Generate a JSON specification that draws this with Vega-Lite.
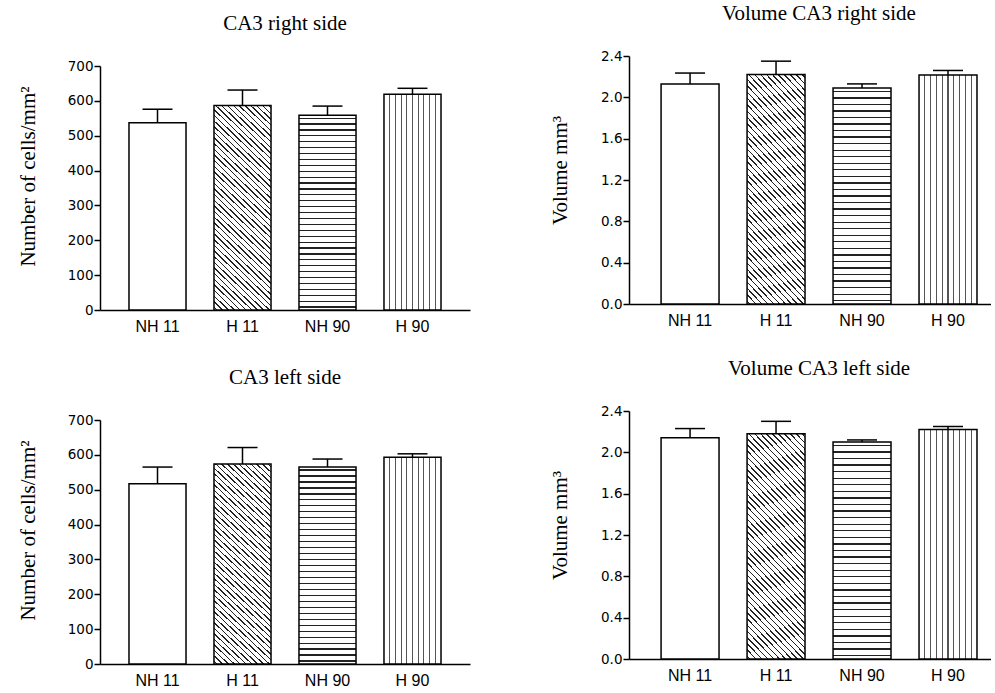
{
"$schema": "https://vega.github.io/schema/vega-lite/v6.json",
"padding": {"left": 17, "top": 3, "right": 0, "bottom": 0},
"params": [
{"name": "gradH", "value": {"gradient": "linear", "x1": 0, "y1": 0, "x2": 0, "y2": 1, "stops": [
{"offset":0.0121,"color":"#fff"},{"offset":0.0121,"color":"#222"},{"offset":0.0182,"color":"#222"},{"offset":0.0182,"color":"#fff"},
{"offset":0.0424,"color":"#fff"},{"offset":0.0424,"color":"#222"},{"offset":0.0485,"color":"#222"},{"offset":0.0485,"color":"#fff"},
{"offset":0.0727,"color":"#fff"},{"offset":0.0727,"color":"#222"},{"offset":0.0788,"color":"#222"},{"offset":0.0788,"color":"#fff"},
{"offset":0.1030,"color":"#fff"},{"offset":0.1030,"color":"#222"},{"offset":0.1091,"color":"#222"},{"offset":0.1091,"color":"#fff"},
{"offset":0.1333,"color":"#fff"},{"offset":0.1333,"color":"#222"},{"offset":0.1394,"color":"#222"},{"offset":0.1394,"color":"#fff"},
{"offset":0.1636,"color":"#fff"},{"offset":0.1636,"color":"#222"},{"offset":0.1697,"color":"#222"},{"offset":0.1697,"color":"#fff"},
{"offset":0.1939,"color":"#fff"},{"offset":0.1939,"color":"#222"},{"offset":0.2000,"color":"#222"},{"offset":0.2000,"color":"#fff"},
{"offset":0.2242,"color":"#fff"},{"offset":0.2242,"color":"#222"},{"offset":0.2303,"color":"#222"},{"offset":0.2303,"color":"#fff"},
{"offset":0.2545,"color":"#fff"},{"offset":0.2545,"color":"#222"},{"offset":0.2606,"color":"#222"},{"offset":0.2606,"color":"#fff"},
{"offset":0.2848,"color":"#fff"},{"offset":0.2848,"color":"#222"},{"offset":0.2909,"color":"#222"},{"offset":0.2909,"color":"#fff"},
{"offset":0.3152,"color":"#fff"},{"offset":0.3152,"color":"#222"},{"offset":0.3212,"color":"#222"},{"offset":0.3212,"color":"#fff"},
{"offset":0.3455,"color":"#fff"},{"offset":0.3455,"color":"#222"},{"offset":0.3515,"color":"#222"},{"offset":0.3515,"color":"#fff"},
{"offset":0.3758,"color":"#fff"},{"offset":0.3758,"color":"#222"},{"offset":0.3818,"color":"#222"},{"offset":0.3818,"color":"#fff"},
{"offset":0.4061,"color":"#fff"},{"offset":0.4061,"color":"#222"},{"offset":0.4121,"color":"#222"},{"offset":0.4121,"color":"#fff"},
{"offset":0.4364,"color":"#fff"},{"offset":0.4364,"color":"#222"},{"offset":0.4424,"color":"#222"},{"offset":0.4424,"color":"#fff"},
{"offset":0.4667,"color":"#fff"},{"offset":0.4667,"color":"#222"},{"offset":0.4727,"color":"#222"},{"offset":0.4727,"color":"#fff"},
{"offset":0.4970,"color":"#fff"},{"offset":0.4970,"color":"#222"},{"offset":0.5030,"color":"#222"},{"offset":0.5030,"color":"#fff"},
{"offset":0.5273,"color":"#fff"},{"offset":0.5273,"color":"#222"},{"offset":0.5333,"color":"#222"},{"offset":0.5333,"color":"#fff"},
{"offset":0.5576,"color":"#fff"},{"offset":0.5576,"color":"#222"},{"offset":0.5636,"color":"#222"},{"offset":0.5636,"color":"#fff"},
{"offset":0.5879,"color":"#fff"},{"offset":0.5879,"color":"#222"},{"offset":0.5939,"color":"#222"},{"offset":0.5939,"color":"#fff"},
{"offset":0.6182,"color":"#fff"},{"offset":0.6182,"color":"#222"},{"offset":0.6242,"color":"#222"},{"offset":0.6242,"color":"#fff"},
{"offset":0.6485,"color":"#fff"},{"offset":0.6485,"color":"#222"},{"offset":0.6545,"color":"#222"},{"offset":0.6545,"color":"#fff"},
{"offset":0.6788,"color":"#fff"},{"offset":0.6788,"color":"#222"},{"offset":0.6848,"color":"#222"},{"offset":0.6848,"color":"#fff"},
{"offset":0.7091,"color":"#fff"},{"offset":0.7091,"color":"#222"},{"offset":0.7152,"color":"#222"},{"offset":0.7152,"color":"#fff"},
{"offset":0.7394,"color":"#fff"},{"offset":0.7394,"color":"#222"},{"offset":0.7455,"color":"#222"},{"offset":0.7455,"color":"#fff"},
{"offset":0.7697,"color":"#fff"},{"offset":0.7697,"color":"#222"},{"offset":0.7758,"color":"#222"},{"offset":0.7758,"color":"#fff"},
{"offset":0.8000,"color":"#fff"},{"offset":0.8000,"color":"#222"},{"offset":0.8061,"color":"#222"},{"offset":0.8061,"color":"#fff"},
{"offset":0.8303,"color":"#fff"},{"offset":0.8303,"color":"#222"},{"offset":0.8364,"color":"#222"},{"offset":0.8364,"color":"#fff"},
{"offset":0.8606,"color":"#fff"},{"offset":0.8606,"color":"#222"},{"offset":0.8667,"color":"#222"},{"offset":0.8667,"color":"#fff"},
{"offset":0.8909,"color":"#fff"},{"offset":0.8909,"color":"#222"},{"offset":0.8970,"color":"#222"},{"offset":0.8970,"color":"#fff"},
{"offset":0.9212,"color":"#fff"},{"offset":0.9212,"color":"#222"},{"offset":0.9273,"color":"#222"},{"offset":0.9273,"color":"#fff"},
{"offset":0.9515,"color":"#fff"},{"offset":0.9515,"color":"#222"},{"offset":0.9576,"color":"#222"},{"offset":0.9576,"color":"#fff"},
{"offset":0.9818,"color":"#fff"},{"offset":0.9818,"color":"#222"},{"offset":0.9879,"color":"#222"},{"offset":0.9879,"color":"#fff"}
]}},
{"name": "gradV", "value": {"gradient": "linear", "x1": 0, "y1": 0, "x2": 1, "y2": 0, "stops": [
{"offset":0.09,"color":"#fff"},{"offset":0.09,"color":"#555"},{"offset":0.11,"color":"#555"},{"offset":0.11,"color":"#fff"},
{"offset":0.19,"color":"#fff"},{"offset":0.19,"color":"#555"},{"offset":0.21,"color":"#555"},{"offset":0.21,"color":"#fff"},
{"offset":0.29,"color":"#fff"},{"offset":0.29,"color":"#555"},{"offset":0.31,"color":"#555"},{"offset":0.31,"color":"#fff"},
{"offset":0.39,"color":"#fff"},{"offset":0.39,"color":"#555"},{"offset":0.41,"color":"#555"},{"offset":0.41,"color":"#fff"},
{"offset":0.49,"color":"#fff"},{"offset":0.49,"color":"#555"},{"offset":0.51,"color":"#555"},{"offset":0.51,"color":"#fff"},
{"offset":0.59,"color":"#fff"},{"offset":0.59,"color":"#555"},{"offset":0.61,"color":"#555"},{"offset":0.61,"color":"#fff"},
{"offset":0.69,"color":"#fff"},{"offset":0.69,"color":"#555"},{"offset":0.71,"color":"#555"},{"offset":0.71,"color":"#fff"},
{"offset":0.79,"color":"#fff"},{"offset":0.79,"color":"#555"},{"offset":0.81,"color":"#555"},{"offset":0.81,"color":"#fff"},
{"offset":0.89,"color":"#fff"},{"offset":0.89,"color":"#555"},{"offset":0.91,"color":"#555"},{"offset":0.91,"color":"#fff"}
]}},
{"name": "gradD", "value": {"gradient": "linear", "x1": 0, "y1": 1, "x2": 0.3196, "y2": -0.1837, "stops": [
{"offset":0.00815,"color":"#fff"},{"offset":0.00815,"color":"#222"},{"offset":0.01359,"color":"#222"},{"offset":0.01359,"color":"#fff"},
{"offset":0.02989,"color":"#fff"},{"offset":0.02989,"color":"#222"},{"offset":0.03533,"color":"#222"},{"offset":0.03533,"color":"#fff"},
{"offset":0.05163,"color":"#fff"},{"offset":0.05163,"color":"#222"},{"offset":0.05707,"color":"#222"},{"offset":0.05707,"color":"#fff"},
{"offset":0.07337,"color":"#fff"},{"offset":0.07337,"color":"#222"},{"offset":0.07880,"color":"#222"},{"offset":0.07880,"color":"#fff"},
{"offset":0.09511,"color":"#fff"},{"offset":0.09511,"color":"#222"},{"offset":0.10054,"color":"#222"},{"offset":0.10054,"color":"#fff"},
{"offset":0.11685,"color":"#fff"},{"offset":0.11685,"color":"#222"},{"offset":0.12228,"color":"#222"},{"offset":0.12228,"color":"#fff"},
{"offset":0.13859,"color":"#fff"},{"offset":0.13859,"color":"#222"},{"offset":0.14402,"color":"#222"},{"offset":0.14402,"color":"#fff"},
{"offset":0.16033,"color":"#fff"},{"offset":0.16033,"color":"#222"},{"offset":0.16576,"color":"#222"},{"offset":0.16576,"color":"#fff"},
{"offset":0.18207,"color":"#fff"},{"offset":0.18207,"color":"#222"},{"offset":0.18750,"color":"#222"},{"offset":0.18750,"color":"#fff"},
{"offset":0.20380,"color":"#fff"},{"offset":0.20380,"color":"#222"},{"offset":0.20924,"color":"#222"},{"offset":0.20924,"color":"#fff"},
{"offset":0.22554,"color":"#fff"},{"offset":0.22554,"color":"#222"},{"offset":0.23098,"color":"#222"},{"offset":0.23098,"color":"#fff"},
{"offset":0.24728,"color":"#fff"},{"offset":0.24728,"color":"#222"},{"offset":0.25272,"color":"#222"},{"offset":0.25272,"color":"#fff"},
{"offset":0.26902,"color":"#fff"},{"offset":0.26902,"color":"#222"},{"offset":0.27446,"color":"#222"},{"offset":0.27446,"color":"#fff"},
{"offset":0.29076,"color":"#fff"},{"offset":0.29076,"color":"#222"},{"offset":0.29620,"color":"#222"},{"offset":0.29620,"color":"#fff"},
{"offset":0.31250,"color":"#fff"},{"offset":0.31250,"color":"#222"},{"offset":0.31793,"color":"#222"},{"offset":0.31793,"color":"#fff"},
{"offset":0.33424,"color":"#fff"},{"offset":0.33424,"color":"#222"},{"offset":0.33967,"color":"#222"},{"offset":0.33967,"color":"#fff"},
{"offset":0.35598,"color":"#fff"},{"offset":0.35598,"color":"#222"},{"offset":0.36141,"color":"#222"},{"offset":0.36141,"color":"#fff"},
{"offset":0.37772,"color":"#fff"},{"offset":0.37772,"color":"#222"},{"offset":0.38315,"color":"#222"},{"offset":0.38315,"color":"#fff"},
{"offset":0.39946,"color":"#fff"},{"offset":0.39946,"color":"#222"},{"offset":0.40489,"color":"#222"},{"offset":0.40489,"color":"#fff"},
{"offset":0.42120,"color":"#fff"},{"offset":0.42120,"color":"#222"},{"offset":0.42663,"color":"#222"},{"offset":0.42663,"color":"#fff"},
{"offset":0.44293,"color":"#fff"},{"offset":0.44293,"color":"#222"},{"offset":0.44837,"color":"#222"},{"offset":0.44837,"color":"#fff"},
{"offset":0.46467,"color":"#fff"},{"offset":0.46467,"color":"#222"},{"offset":0.47011,"color":"#222"},{"offset":0.47011,"color":"#fff"},
{"offset":0.48641,"color":"#fff"},{"offset":0.48641,"color":"#222"},{"offset":0.49185,"color":"#222"},{"offset":0.49185,"color":"#fff"},
{"offset":0.50815,"color":"#fff"},{"offset":0.50815,"color":"#222"},{"offset":0.51359,"color":"#222"},{"offset":0.51359,"color":"#fff"},
{"offset":0.52989,"color":"#fff"},{"offset":0.52989,"color":"#222"},{"offset":0.53533,"color":"#222"},{"offset":0.53533,"color":"#fff"},
{"offset":0.55163,"color":"#fff"},{"offset":0.55163,"color":"#222"},{"offset":0.55707,"color":"#222"},{"offset":0.55707,"color":"#fff"},
{"offset":0.57337,"color":"#fff"},{"offset":0.57337,"color":"#222"},{"offset":0.57880,"color":"#222"},{"offset":0.57880,"color":"#fff"},
{"offset":0.59511,"color":"#fff"},{"offset":0.59511,"color":"#222"},{"offset":0.60054,"color":"#222"},{"offset":0.60054,"color":"#fff"},
{"offset":0.61685,"color":"#fff"},{"offset":0.61685,"color":"#222"},{"offset":0.62228,"color":"#222"},{"offset":0.62228,"color":"#fff"},
{"offset":0.63859,"color":"#fff"},{"offset":0.63859,"color":"#222"},{"offset":0.64402,"color":"#222"},{"offset":0.64402,"color":"#fff"},
{"offset":0.66033,"color":"#fff"},{"offset":0.66033,"color":"#222"},{"offset":0.66576,"color":"#222"},{"offset":0.66576,"color":"#fff"},
{"offset":0.68207,"color":"#fff"},{"offset":0.68207,"color":"#222"},{"offset":0.68750,"color":"#222"},{"offset":0.68750,"color":"#fff"},
{"offset":0.70380,"color":"#fff"},{"offset":0.70380,"color":"#222"},{"offset":0.70924,"color":"#222"},{"offset":0.70924,"color":"#fff"},
{"offset":0.72554,"color":"#fff"},{"offset":0.72554,"color":"#222"},{"offset":0.73098,"color":"#222"},{"offset":0.73098,"color":"#fff"},
{"offset":0.74728,"color":"#fff"},{"offset":0.74728,"color":"#222"},{"offset":0.75272,"color":"#222"},{"offset":0.75272,"color":"#fff"},
{"offset":0.76902,"color":"#fff"},{"offset":0.76902,"color":"#222"},{"offset":0.77446,"color":"#222"},{"offset":0.77446,"color":"#fff"},
{"offset":0.79076,"color":"#fff"},{"offset":0.79076,"color":"#222"},{"offset":0.79620,"color":"#222"},{"offset":0.79620,"color":"#fff"},
{"offset":0.81250,"color":"#fff"},{"offset":0.81250,"color":"#222"},{"offset":0.81793,"color":"#222"},{"offset":0.81793,"color":"#fff"},
{"offset":0.83424,"color":"#fff"},{"offset":0.83424,"color":"#222"},{"offset":0.83967,"color":"#222"},{"offset":0.83967,"color":"#fff"},
{"offset":0.85598,"color":"#fff"},{"offset":0.85598,"color":"#222"},{"offset":0.86141,"color":"#222"},{"offset":0.86141,"color":"#fff"},
{"offset":0.87772,"color":"#fff"},{"offset":0.87772,"color":"#222"},{"offset":0.88315,"color":"#222"},{"offset":0.88315,"color":"#fff"},
{"offset":0.89946,"color":"#fff"},{"offset":0.89946,"color":"#222"},{"offset":0.90489,"color":"#222"},{"offset":0.90489,"color":"#fff"},
{"offset":0.92120,"color":"#fff"},{"offset":0.92120,"color":"#222"},{"offset":0.92663,"color":"#222"},{"offset":0.92663,"color":"#fff"},
{"offset":0.94293,"color":"#fff"},{"offset":0.94293,"color":"#222"},{"offset":0.94837,"color":"#222"},{"offset":0.94837,"color":"#fff"},
{"offset":0.96467,"color":"#fff"},{"offset":0.96467,"color":"#222"},{"offset":0.97011,"color":"#222"},{"offset":0.97011,"color":"#fff"},
{"offset":0.98641,"color":"#fff"},{"offset":0.98641,"color":"#222"},{"offset":0.99185,"color":"#222"},{"offset":0.99185,"color":"#fff"}
]}}
],
"data": {"values": [
{"panel": "cells_right", "group": "NH 11", "mean": 537, "upper": 576},
{"panel": "cells_right", "group": "H 11", "mean": 587, "upper": 631},
{"panel": "cells_right", "group": "NH 90", "mean": 559, "upper": 585},
{"panel": "cells_right", "group": "H 90", "mean": 619, "upper": 636},
{"panel": "cells_left", "group": "NH 11", "mean": 517, "upper": 565},
{"panel": "cells_left", "group": "H 11", "mean": 574, "upper": 621},
{"panel": "cells_left", "group": "NH 90", "mean": 565, "upper": 588},
{"panel": "cells_left", "group": "H 90", "mean": 593, "upper": 603},
{"panel": "vol_right", "group": "NH 11", "mean": 2.13, "upper": 2.235},
{"panel": "vol_right", "group": "H 11", "mean": 2.22, "upper": 2.35},
{"panel": "vol_right", "group": "NH 90", "mean": 2.09, "upper": 2.13},
{"panel": "vol_right", "group": "H 90", "mean": 2.215, "upper": 2.26},
{"panel": "vol_left", "group": "NH 11", "mean": 2.14, "upper": 2.23},
{"panel": "vol_left", "group": "H 11", "mean": 2.18, "upper": 2.30},
{"panel": "vol_left", "group": "NH 90", "mean": 2.10, "upper": 2.12},
{"panel": "vol_left", "group": "H 90", "mean": 2.22, "upper": 2.25}
]},
"hconcat": [
{"vconcat": [
{"width": 370, "height": 254, "title": {"text": "CA3 right side", "offset": 22},
 "transform": [{"filter": "datum.panel === 'cells_right'"}],
 "encoding": {
  "x": {"field": "group", "type": "nominal", "sort": ["NH 11", "H 11", "NH 90", "H 90"], "scale": {"paddingInner": 0.329, "paddingOuter": 0.341}, "title": null},
  "y": {"field": "mean", "type": "quantitative", "scale": {"domain": [0, 700], "range": [254, 10], "nice": false}, "axis": {"values": [0, 100, 200, 300, 400, 500, 600, 700], "titleY": 120, "titlePadding": 29}, "title": "Number of cells/mm²"}},
 "layer": [
  {"transform": [{"filter": "datum.group === 'NH 11'"}], "mark": {"type": "bar", "fill": "white"}},
  {"transform": [{"filter": "datum.group === 'H 11'"}], "mark": {"type": "bar", "fill": {"expr": "gradD"}}},
  {"transform": [{"filter": "datum.group === 'NH 90'"}], "mark": {"type": "bar", "fill": {"expr": "gradH"}}},
  {"transform": [{"filter": "datum.group === 'H 90'"}], "mark": {"type": "bar", "fill": {"expr": "gradV"}}},
  {"mark": {"type": "rule", "color": "black", "strokeWidth": 1.5}, "encoding": {"y2": {"field": "upper"}}},
  {"mark": {"type": "tick", "color": "black", "size": 30, "thickness": 1.5, "opacity": 1}, "encoding": {"y": {"field": "upper", "type": "quantitative", "title": "Number of cells/mm²"}}}
 ]},
{"width": 370, "height": 254, "title": {"text": "CA3 left side", "offset": 22},
 "transform": [{"filter": "datum.panel === 'cells_left'"}],
 "encoding": {
  "x": {"field": "group", "type": "nominal", "sort": ["NH 11", "H 11", "NH 90", "H 90"], "scale": {"paddingInner": 0.329, "paddingOuter": 0.341}, "title": null},
  "y": {"field": "mean", "type": "quantitative", "scale": {"domain": [0, 700], "range": [254, 10], "nice": false}, "axis": {"values": [0, 100, 200, 300, 400, 500, 600, 700], "titleY": 120, "titlePadding": 29}, "title": "Number of cells/mm²"}},
 "layer": [
  {"transform": [{"filter": "datum.group === 'NH 11'"}], "mark": {"type": "bar", "fill": "white"}},
  {"transform": [{"filter": "datum.group === 'H 11'"}], "mark": {"type": "bar", "fill": {"expr": "gradD"}}},
  {"transform": [{"filter": "datum.group === 'NH 90'"}], "mark": {"type": "bar", "fill": {"expr": "gradH"}}},
  {"transform": [{"filter": "datum.group === 'H 90'"}], "mark": {"type": "bar", "fill": {"expr": "gradV"}}},
  {"mark": {"type": "rule", "color": "black", "strokeWidth": 1.5}, "encoding": {"y2": {"field": "upper"}}},
  {"mark": {"type": "tick", "color": "black", "size": 30, "thickness": 1.5, "opacity": 1}, "encoding": {"y": {"field": "upper", "type": "quantitative", "title": "Number of cells/mm²"}}}
 ]}
], "spacing": 33},
{"vconcat": [
{"width": 362, "height": 248, "title": {"text": "Volume CA3 right side", "dx": 9},
 "transform": [{"filter": "datum.panel === 'vol_right'"}],
 "encoding": {
  "x": {"field": "group", "type": "nominal", "sort": ["NH 11", "H 11", "NH 90", "H 90"], "scale": {"paddingInner": 0.326, "paddingOuter": 0.268, "align": 0.696}, "title": null},
  "y": {"field": "mean", "type": "quantitative", "scale": {"domain": [0, 2.4], "nice": false}, "axis": {"values": [0, 0.4, 0.8, 1.2, 1.6, 2.0, 2.4], "format": ".1f", "titleY": 114, "titlePadding": 30}, "title": "Volume mm³"}},
 "layer": [
  {"transform": [{"filter": "datum.group === 'NH 11'"}], "mark": {"type": "bar", "fill": "white"}},
  {"transform": [{"filter": "datum.group === 'H 11'"}], "mark": {"type": "bar", "fill": {"expr": "gradD"}}},
  {"transform": [{"filter": "datum.group === 'NH 90'"}], "mark": {"type": "bar", "fill": {"expr": "gradH"}}},
  {"transform": [{"filter": "datum.group === 'H 90'"}], "mark": {"type": "bar", "fill": {"expr": "gradV"}}},
  {"mark": {"type": "rule", "color": "black", "strokeWidth": 1.5}, "encoding": {"y2": {"field": "upper"}}},
  {"mark": {"type": "tick", "color": "black", "size": 30, "thickness": 1.5, "opacity": 1}, "encoding": {"y": {"field": "upper", "type": "quantitative", "title": "Volume mm³"}}}
 ]},
{"width": 362, "height": 248, "title": {"text": "Volume CA3 left side", "dx": 9},
 "transform": [{"filter": "datum.panel === 'vol_left'"}],
 "encoding": {
  "x": {"field": "group", "type": "nominal", "sort": ["NH 11", "H 11", "NH 90", "H 90"], "scale": {"paddingInner": 0.326, "paddingOuter": 0.268, "align": 0.696}, "title": null},
  "y": {"field": "mean", "type": "quantitative", "scale": {"domain": [0, 2.4], "nice": false}, "axis": {"values": [0, 0.4, 0.8, 1.2, 1.6, 2.0, 2.4], "format": ".1f", "titleY": 114, "titlePadding": 30}, "title": "Volume mm³"}},
 "layer": [
  {"transform": [{"filter": "datum.group === 'NH 11'"}], "mark": {"type": "bar", "fill": "white"}},
  {"transform": [{"filter": "datum.group === 'H 11'"}], "mark": {"type": "bar", "fill": {"expr": "gradD"}}},
  {"transform": [{"filter": "datum.group === 'NH 90'"}], "mark": {"type": "bar", "fill": {"expr": "gradH"}}},
  {"transform": [{"filter": "datum.group === 'H 90'"}], "mark": {"type": "bar", "fill": {"expr": "gradV"}}},
  {"mark": {"type": "rule", "color": "black", "strokeWidth": 1.5}, "encoding": {"y2": {"field": "upper"}}},
  {"mark": {"type": "tick", "color": "black", "size": 30, "thickness": 1.5, "opacity": 1}, "encoding": {"y": {"field": "upper", "type": "quantitative", "title": "Volume mm³"}}}
 ]}
], "spacing": 30}
],
"spacing": 79,
"config": {
 "view": {"stroke": null},
 "background": "white",
 "title": {"font": "Liberation Serif", "fontSize": 21, "fontWeight": "normal", "color": "black", "offset": 25, "anchor": "middle"},
 "axis": {"grid": false, "domainColor": "black", "domainWidth": 1.5, "tickColor": "black", "tickWidth": 1.5, "labelColor": "black", "titleColor": "black", "titleFont": "Liberation Serif", "titleFontSize": 21, "titleFontWeight": "normal"},
 "axisY": {"tickSize": 6, "labelPadding": 1, "labelFont": "DejaVu Sans", "labelFontSize": 13.5},
 "axisX": {"ticks": false, "labelPadding": 8, "labelFont": "Liberation Sans", "labelFontSize": 16, "labelAngle": 0},
 "bar": {"stroke": "black", "strokeWidth": 1.5}
}
}
